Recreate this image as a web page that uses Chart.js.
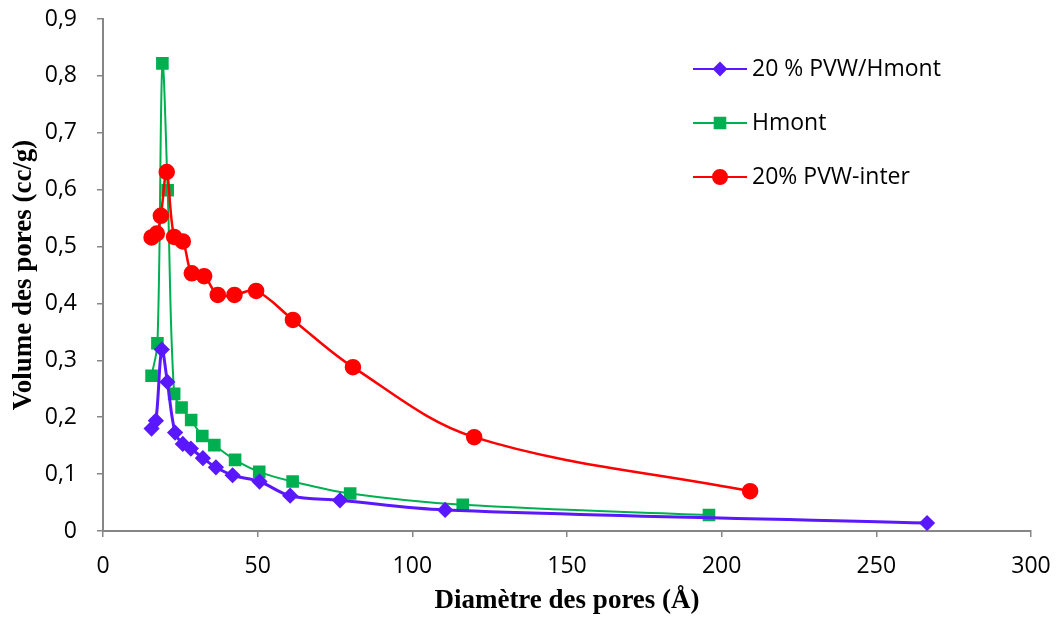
<!DOCTYPE html>
<html>
<head>
  <title>Volume des pores</title>
  <script src="https://cdn.jsdelivr.net/npm/chart.js@4.4.2/dist/chart.umd.min.js"></script>
  <style>
    body { margin: 0; background: #fff; }
    #wrap { width: 1056px; height: 622px; }
  </style>
</head>
<body>
  <div id="wrap"><canvas id="poreChart"></canvas></div>
<script>
// Pore size distribution (diameter in Å, volume in cc/g)
const seriesNames = ['20 % PVW/Hmont', 'Hmont', '20% PVW-inter'];

const pvwHmontX = [15.7, 17.1, 19.0, 20.8, 23.3, 25.8, 28.4, 32.3, 36.5, 41.9, 50.6, 60.5, 76.6, 110.6, 266.4];
const pvwHmontY = [0.180, 0.194, 0.319, 0.262, 0.173, 0.153, 0.145, 0.128, 0.112, 0.098, 0.087, 0.062, 0.054, 0.037, 0.014];

const hmontX = [15.7, 17.6, 19.2, 20.9, 23.0, 25.4, 28.5, 32.1, 36.0, 42.7, 50.5, 61.3, 79.9, 116.3, 195.9];
const hmontY = [0.273, 0.330, 0.822, 0.599, 0.241, 0.217, 0.195, 0.167, 0.151, 0.125, 0.104, 0.087, 0.066, 0.046, 0.028];

const interX = [15.7, 17.4, 18.7, 20.6, 23.0, 25.8, 28.7, 32.7, 37.1, 42.5, 49.5, 61.4, 80.8, 120.0, 209.2];
const interY = [0.516, 0.523, 0.554, 0.631, 0.517, 0.509, 0.453, 0.448, 0.415, 0.415, 0.422, 0.371, 0.288, 0.165, 0.070];

const colors = ['#5A18FF', '#00B050', '#FF0000'];
const markers = ['rectRot', 'rect', 'circle'];

const toPoints = (xs, ys) => xs.map((x, i) => ({ x: x, y: ys[i] }));
const tickFont = { family: '"Open Sans"', size: 23 };
const titleFont = { family: '"Liberation Serif"', size: 27, weight: 'bold' };
const axisGray = '#868686';

// legend drawn inside the plot, Excel style: line + marker, then label
const innerLegend = {
  id: 'innerLegend',
  afterDraw(chart) {
    const ctx = chart.ctx;
    const rows = [69, 123, 177];
    chart.data.datasets.forEach((ds, i) => {
      const y = rows[i];
      ctx.save();
      ctx.strokeStyle = ds.borderColor;
      ctx.fillStyle = ds.backgroundColor;
      ctx.lineWidth = 2;
      ctx.beginPath();
      ctx.moveTo(693, y);
      ctx.lineTo(747, y);
      ctx.stroke();
      Chart.helpers.drawPoint(ctx, {
        pointStyle: ds.pointStyle, radius: ds.pointRadius, borderWidth: 1
      }, 720, y);
      ctx.fillStyle = '#000';
      ctx.font = '23px "Open Sans"';
      ctx.textBaseline = 'middle';
      ctx.fillText(ds.label, 752, y);
      ctx.restore();
    });
  }
};

const ctx = document.getElementById('poreChart').getContext('2d');

const chart = new Chart(ctx, {
  type: 'scatter',
  data: {
    datasets: [
      {
        label: seriesNames[0],
        data: toPoints(pvwHmontX, pvwHmontY),
        borderColor: colors[0], backgroundColor: colors[0],
        borderWidth: 3, pointStyle: markers[0], pointRadius: 6,
        showLine: true, tension: 0.35, order: 0
      },
      {
        label: seriesNames[1],
        data: toPoints(hmontX, hmontY),
        borderColor: colors[1], backgroundColor: colors[1],
        borderWidth: 2, pointStyle: markers[1], pointRadius: 7.5,
        showLine: true, tension: 0.35, order: 2
      },
      {
        label: seriesNames[2],
        data: toPoints(interX, interY),
        borderColor: colors[2], backgroundColor: colors[2],
        borderWidth: 2.5, pointStyle: markers[2], pointRadius: 7,
        showLine: true, tension: 0.35, order: 1
      }
    ]
  },
  options: {
    responsive: true,
    maintainAspectRatio: false,
    animation: false,
    layout: { padding: { top: 19, right: 25, left: 0, bottom: 0 } },
    plugins: {
      legend: { display: false },
      tooltip: { enabled: false }
    },
    scales: {
      x: {
        type: 'linear', min: 0, max: 300,
        border: { color: axisGray, width: 2 },
        grid: { drawOnChartArea: false, drawTicks: true, tickLength: 6, color: axisGray, lineWidth: 1.5 },
        ticks: { stepSize: 50, color: '#000', font: tickFont, padding: 16, maxRotation: 0 },
        title: { display: true, text: 'Diamètre des pores (Å)', color: '#000', font: titleFont, padding: { top: 0, bottom: 5 } },
        afterFit(s) { s.height = 91; s.paddingLeft = 0; s.paddingRight = 0; }
      },
      y: {
        type: 'linear', min: 0, max: 0.9,
        border: { color: axisGray, width: 2 },
        grid: { drawOnChartArea: false, drawTicks: true, tickLength: 6, color: axisGray, lineWidth: 1.5 },
        ticks: {
          stepSize: 0.1, color: '#000', font: tickFont, padding: 20,
          callback: v => String(Math.round(v * 10) / 10).replace('.', ',')
        },
        title: { display: true, text: 'Volume des pores (cc/g)', color: '#000', font: titleFont, padding: { top: 8, bottom: 0 } },
        afterFit(s) { s.width = 103; s.paddingTop = 0; s.paddingBottom = 0; }
      }
    }
  },
  plugins: [innerLegend]
});
</script>
</body>
</html>
